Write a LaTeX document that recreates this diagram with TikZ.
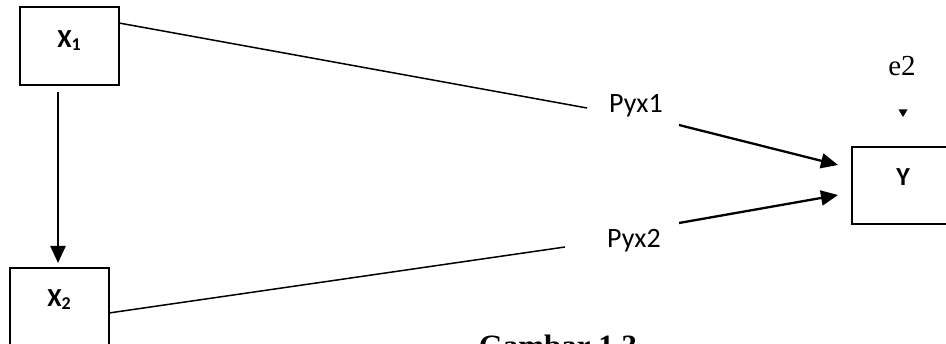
\documentclass[tikz,border=0pt]{standalone}
\usepackage{fontspec}
\setmainfont{Liberation Serif}
\newfontfamily\calib{Carlito}
\usetikzlibrary{arrows.meta}
\tikzset{
  varbox/.style={draw, line width=1.4pt, inner sep=0pt},
  varlabel/.style={font=\calib\bfseries\fontsize{26}{26}\selectfont, inner sep=0pt},
  pathlabel/.style={font=\calib\fontsize{28}{28}\selectfont, inner sep=0pt},
  plainline/.style={line width=1.5pt},
  arrowline/.style={line width=2.3pt, -{Triangle[length=17pt,width=15pt]}},
}
\newcommand{\subidx}[1]{{\fontsize{18}{18}\selectfont\raisebox{-3pt}{#1}}}
\begin{document}
\begin{tikzpicture}[x=1pt,y=-1pt]
\useasboundingbox (0,0) rectangle (946,344);
% boxes
\node[varbox, minimum width=99pt, minimum height=78pt] (x1) at (69.5,46) {};
\node[varlabel] (x1l) at (69,41) {X\subidx{1}};
\node[varbox, minimum width=99pt, minimum height=78pt] (x2) at (59.5,307) {};
\node[varlabel] (x2l) at (59,300) {X\subidx{2}};
\node[varbox, minimum width=102pt, minimum height=77pt] (y) at (903,185.5) {};
\node[varlabel] (yl) at (903,177) {Y};
% path labels
\node[pathlabel] (p1) at (636,106) {Pyx1};
\node[pathlabel] (p2) at (634,241) {Pyx2};
\node[font=\fontsize{29}{29}\selectfont, inner sep=0pt] (e2) at (902,66) {e2};
% caption
\node[font=\bfseries\fontsize{31}{31}\selectfont, inner sep=0pt, anchor=base] (cap) at (558,357) {Gambar 1.3};
% connector end points
\coordinate (x1out) at (119,23);
\coordinate (p1in) at (587,108);
\coordinate (x2out) at (109,313);
\coordinate (p2in) at (565,247);
\coordinate (x1down) at (58,92);
\coordinate (x2top) at (58,263);
\coordinate (p1out) at (679,125);
\coordinate (p2out) at (679,223);
\coordinate (yin1) at (838,165);
\coordinate (yin2) at (838,195);
% connectors
\draw[plainline] (x1out) -- (p1in);
\draw[plainline] (x2out) -- (p2in);
\draw[arrowline] (x1down) -- (x2top);
\draw[arrowline] (p1out) -- (yin1);
\draw[arrowline] (p2out) -- (yin2);
% small arrowhead below e2
\fill (898.5,109.5) -- (907.5,109.5) -- (903,117) -- cycle;
\end{tikzpicture}
\end{document}
